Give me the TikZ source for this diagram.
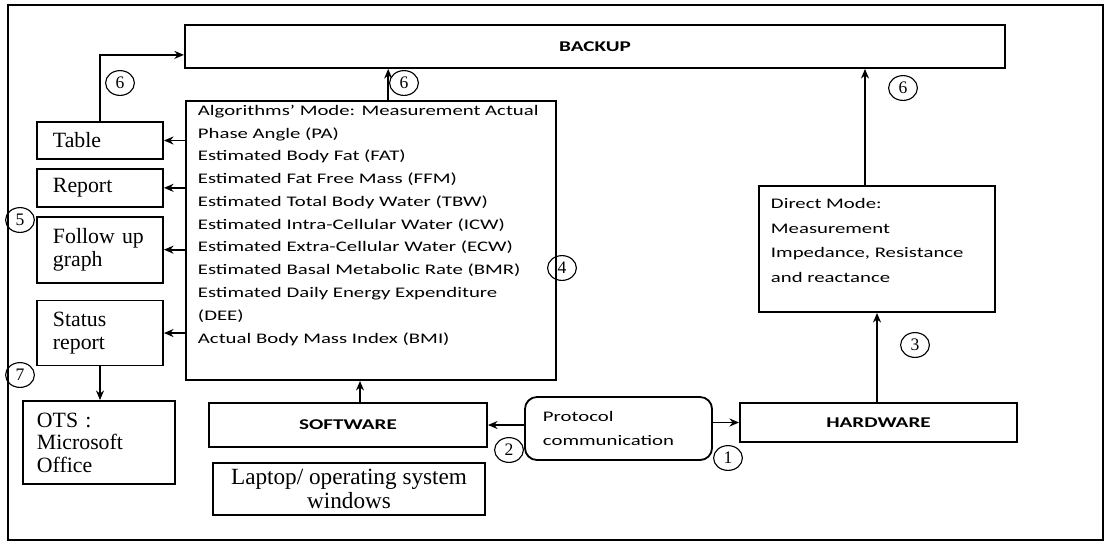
\documentclass[tikz,border=0pt]{standalone}
\usepackage{fontspec}
\setmainfont{Liberation Serif}
\newfontfamily\calfont{Carlito}[FakeStretch=1.42]
\usetikzlibrary{shapes.geometric, arrows.meta, positioning}

\begin{document}
\begin{tikzpicture}[x=0.025cm, y=-0.025cm]
% Box and arrow styles
\tikzstyle{serif_box} = [rectangle, draw=black, line width=1.3pt, align=left, inner xsep=0.4cm, text width=2.35cm, font=\fontsize{15.5}{16}\selectfont]
\tikzstyle{plain_box} = [rectangle, draw=black, line width=1.3pt]
\tikzstyle{title_box} = [rectangle, draw=black, line width=1.3pt, text centered, font=\calfont\bfseries\fontsize{10.6}{13}\selectfont]
\tikzstyle{num_circle} = [ellipse, draw=black, line width=0.8pt, minimum width=0.72cm, minimum height=0.62cm, inner sep=0pt, font=\fontsize{12.5}{13}\selectfont]
\tikzstyle{arrow} = [line width=1.3pt,-{Stealth[length=2.4mm,width=2mm]}]
\useasboundingbox (0,0) rectangle (1111,548);
\draw[line width=1pt] (8,5) rectangle (1103,540);

% Top box
\node (backup) [title_box, minimum width=20.5cm, minimum height=1.075cm] at (595,46.5) {BACKUP};

% Output boxes on the left
\node (table) [serif_box, minimum height=0.925cm] at (100,140.5) {Table};
\node (report) [serif_box, minimum height=0.95cm, below=0.2cm of table] {Report};
\node (follow) [serif_box, minimum height=1.65cm, below=0.2cm of report] {Follow up\\graph};
\node (status) [serif_box, minimum height=1.625cm, below=0.4cm of follow] {Status\\report};
\node (ots) [serif_box, text width=3.1cm, inner xsep=0.35cm, minimum height=2.075cm] at (99,442.5) {OTS :\\Microsoft\\Office};

% Algorithms and direct mode
\node (algo) [plain_box, inner xsep=0.3cm, inner ysep=0.1cm] at (371,240.5) {\parbox[c][6.775cm][t]{8.65cm}{\calfont\fontsize{10.4}{16.2}\selectfont\raggedright
Algorithms’ Mode: Measurement Actual\\
Phase Angle (PA)\\
Estimated Body Fat (FAT)\\
Estimated Fat Free Mass (FFM)\\
Estimated Total Body Water (TBW)\\
Estimated Intra-Cellular Water (ICW)\\
Estimated Extra-Cellular Water (ECW)\\
Estimated Basal Metabolic Rate (BMR)\\
Estimated Daily Energy Expenditure\\
(DEE)\\
Actual Body Mass Index (BMI)}};
\node (direct) [plain_box, inner xsep=0.3cm, inner ysep=0.3cm] at (877,249) {\parbox[c][2.55cm][t]{5.3cm}{\calfont\fontsize{10.4}{17.7}\selectfont\raggedright
Direct Mode:\\
Measurement\\
Impedance, Resistance\\
and reactance}};

% Bottom row
\node (software) [title_box, minimum width=6.95cm, minimum height=1.1cm] at (348,425) {SOFTWARE};
\node (laptop) [plain_box, align=center, minimum width=6.8cm, minimum height=1.3cm, font=\fontsize{16.5}{16.5}\selectfont] at (349,489) {Laptop/ operating system\\windows};
\node (proto) [plain_box, rounded corners=0.3cm, align=left, text width=3.775cm, inner xsep=0.45cm, minimum height=1.575cm, font=\calfont\fontsize{10.4}{17}\selectfont] at (618.5,428.5) {Protocol\\communication};
\node (hardware) [title_box, minimum width=6.925cm, minimum height=0.975cm] at (878.5,422.5) {HARDWARE};

% Step numbers
\node (n1) [num_circle] at (728,458) {1};
\node (n2) [num_circle] at (509,450) {2};
\node (n3) [num_circle] at (915,345) {3};
\node (n4) [num_circle] at (562,268) {4};
\node (n5) [num_circle] at (20,220) {5};
\node (n6a) [num_circle] at (120,83) {6};
\node (n6b) [num_circle] at (404,83) {6};
\node (n6c) [num_circle] at (903,88) {6};
\node (n7) [num_circle] at (20,375) {7};

% Draw arrows for connection
\draw [arrow] (proto.east |- hardware.west) -- (hardware.west);
\draw [arrow] (proto.west |- software.east) -- (software.east);
\draw [arrow] (direct.south |- hardware.north) -- (direct.south);
\draw [arrow] ([xshift=0.3cm]software.north) coordinate (sw_up) -- (sw_up |- algo.south);

\draw [arrow] (algo.west |- table.east) -- (table.east);
\draw [arrow] (algo.west |- report.east) -- (report.east);
\draw [arrow] (algo.west |- follow.east) -- (follow.east);
\draw [arrow] (algo.west |- status.east) -- (status.east);
\draw [arrow] (status.south) -- (status.south |- ots.north);

\draw [arrow] (table.north) |- ([yshift=-0.21cm]backup.west);
\draw [arrow] ([xshift=0.43cm]algo.north) coordinate (algo_up) -- (algo_up |- backup.south);
\draw [arrow] ([xshift=-0.3cm]direct.north) coordinate (direct_up) -- (direct_up |- backup.south);
\end{tikzpicture}
\end{document}
